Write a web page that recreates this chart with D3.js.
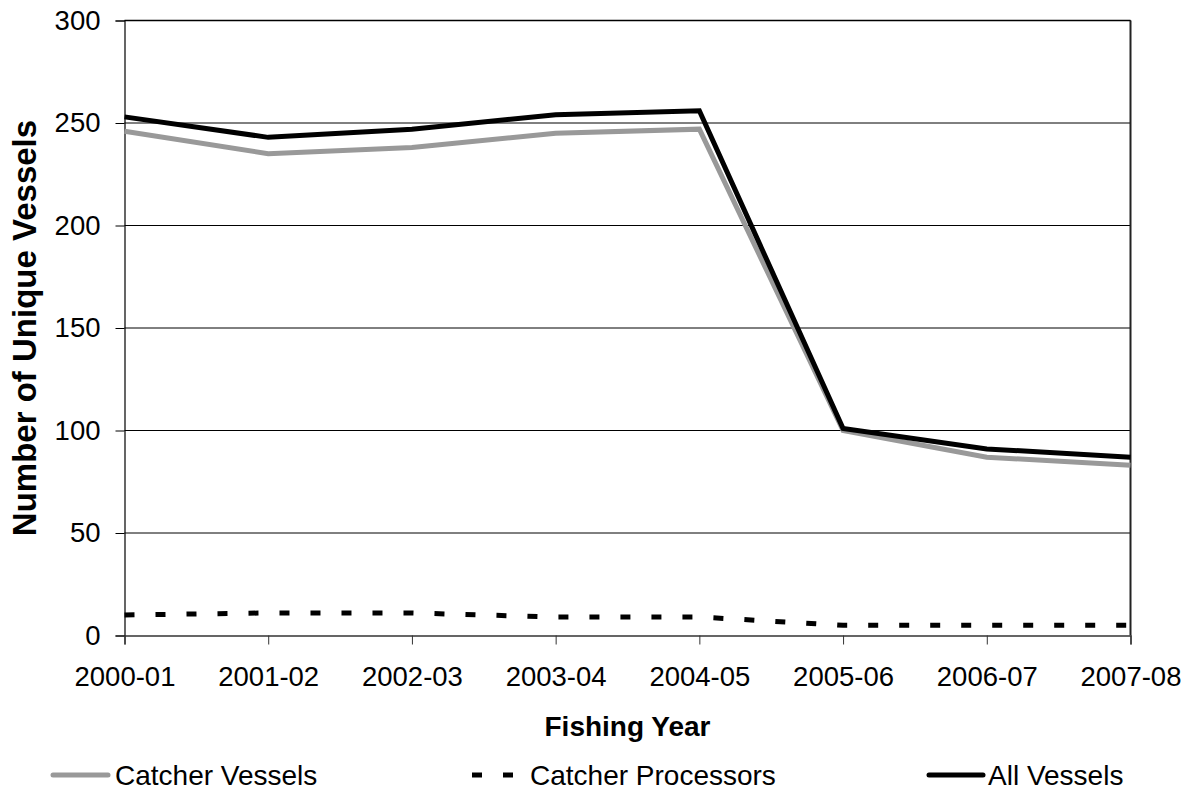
<!DOCTYPE html>
<html>
<head>
<meta charset="utf-8">
<script src="https://cdn.jsdelivr.net/npm/d3@7/dist/d3.min.js"></script>
<style>
  html, body { margin: 0; padding: 0; background: #fff; }
  svg { display: block; font-family: "Liberation Sans", Arial, sans-serif; }
</style>
</head>
<body>
<svg id="chart" width="1188" height="791"></svg>
<script>
// Fishing years on the category axis
const years = ["2000-01", "2001-02", "2002-03", "2003-04", "2004-05", "2005-06", "2006-07", "2007-08"];

// Unique vessel counts per fishing year
const catcherVessels    = [246, 235, 238, 245, 247, 100, 87, 83];
const catcherProcessors = [10, 11, 11, 9, 9, 5, 5, 5];
const allVessels        = [253, 243, 247, 254, 256, 101, 91, 87];

const yTicks = [0, 50, 100, 150, 200, 250, 300];

const seriesNames = ["Catcher Vessels", "Catcher Processors", "All Vessels"];

const svg = d3.select("#chart");

const plot = { left: 124.5, right: 1130.5, top: 20.5, bottom: 635.5 };

const x = d3.scalePoint().domain(years).range([plot.left, plot.right]);
const y = d3.scaleLinear().domain([0, 300]).range([plot.bottom, plot.top]);

// horizontal gridlines
svg.append("g")
  .selectAll("line")
  .data(yTicks.filter(v => v > 0))
  .join("line")
  .attr("x1", plot.left).attr("x2", plot.right)
  .attr("y1", d => y(d)).attr("y2", d => y(d))
  .attr("stroke", "#000").attr("stroke-width", 1);

// right frame edge
svg.append("line")
  .attr("x1", plot.right).attr("x2", plot.right)
  .attr("y1", plot.top).attr("y2", plot.bottom)
  .attr("stroke", "#222").attr("stroke-width", 2);

// y axis
const yAxis = svg.append("g")
  .attr("transform", `translate(${plot.left},0)`)
  .call(d3.axisLeft(y).tickValues(yTicks).tickSize(9).tickPadding(15));
yAxis.select(".domain").attr("stroke", "#000").attr("stroke-width", 1.2);
yAxis.selectAll(".tick line").attr("stroke", "#000");
yAxis.selectAll(".tick text")
  .attr("font-size", 27.5).attr("fill", "#000")
  .attr("font-family", "Liberation Sans, Arial, sans-serif");

// x axis
const xAxis = svg.append("g")
  .attr("transform", `translate(0,${plot.bottom})`)
  .call(d3.axisBottom(x).tickSize(9).tickPadding(22));
xAxis.select(".domain").attr("stroke", "#333").attr("stroke-width", 1.5);
xAxis.selectAll(".tick line").attr("stroke", "#333");
xAxis.selectAll(".tick text")
  .attr("font-size", 27.5).attr("fill", "#000")
  .attr("font-family", "Liberation Sans, Arial, sans-serif");

// axis titles
svg.append("text")
  .attr("x", (plot.left + plot.right) / 2 + 0).attr("y", 736)
  .attr("text-anchor", "middle")
  .attr("font-size", 28).attr("font-weight", "bold")
  .text("Fishing Year");

svg.append("text")
  .attr("transform", `translate(36,${(plot.top + plot.bottom) / 2}) rotate(-90)`)
  .attr("text-anchor", "middle")
  .attr("font-size", 33).attr("font-weight", "bold")
  .text("Number of Unique Vessels");

// series lines
const line = d3.line().x((d, i) => x(years[i])).y(d => y(d));

const styles = [
  { data: catcherVessels, stroke: "#999999", dash: null },
  { data: catcherProcessors, stroke: "#000000", dash: "10 21" },
  { data: allVessels, stroke: "#000000", dash: null }
];

svg.append("g")
  .selectAll("path")
  .data(styles)
  .join("path")
  .attr("d", d => line(d.data))
  .attr("fill", "none")
  .attr("stroke", d => d.stroke)
  .attr("stroke-width", 5)
  .attr("stroke-linejoin", "miter")
  .attr("stroke-dasharray", d => d.dash);

// top frame edge
svg.append("line")
  .attr("x1", plot.left).attr("x2", plot.right)
  .attr("y1", plot.top).attr("y2", plot.top)
  .attr("stroke", "#000").attr("stroke-width", 1.5);

// legend
const legendItems = [
  { name: seriesNames[0], x0: 53, x1: 108, tx: 115, stroke: "#999999", dash: null },
  { name: seriesNames[1], x0: 472, x1: 514, tx: 530, stroke: "#000000", dash: "10 21" },
  { name: seriesNames[2], x0: 929, x1: 983, tx: 988, stroke: "#000000", dash: null }
];

const lg = svg.append("g").selectAll("g").data(legendItems).join("g");
lg.append("line")
  .attr("x1", d => d.x0).attr("x2", d => d.x1)
  .attr("y1", 775).attr("y2", 775)
  .attr("stroke", d => d.stroke)
  .attr("stroke-width", 5)
  .attr("stroke-linecap", d => d.dash ? "butt" : "round")
  .attr("stroke-dasharray", d => d.dash);
lg.append("text")
  .attr("x", d => d.tx).attr("y", 785)
  .attr("font-size", 28)
  .text(d => d.name);
</script>
</body>
</html>
